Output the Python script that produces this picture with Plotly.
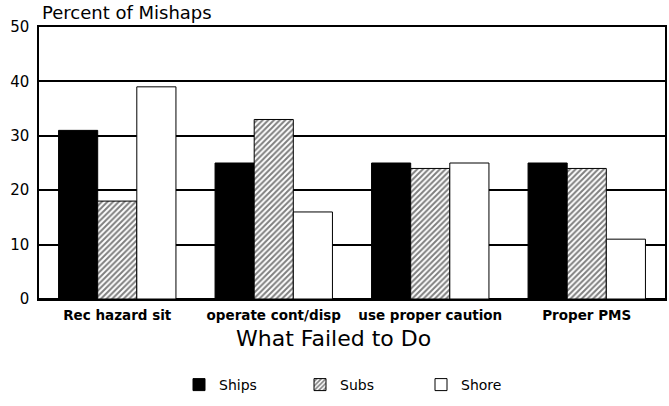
import plotly.graph_objects as go

categories = ["Rec hazard sit", "operate cont/disp", "use proper caution", "Proper PMS"]
ships = [31, 25, 25, 25]
subs = [18, 33, 24, 24]
shore = [39, 16, 25, 11]
y_ticks = [0, 10, 20, 30, 40, 50]

FONT = "DejaVu Sans"
L, R, T, B = 39, 4, 27, 107
W, H = 669, 406
PW, PH = W - L - R, H - T - B


def px(x):
    return (x - L) / PW


def py(y):
    return (H - B - y) / PH


fig = go.Figure()
fig.add_trace(go.Bar(name="Ships", x=categories, y=ships,
                     marker=dict(color="black", line=dict(color="black", width=1))))
fig.add_trace(go.Bar(name="Subs", x=categories, y=subs,
                     marker=dict(color="white", line=dict(color="black", width=1),
                                 pattern=dict(shape="/", fgcolor="black", bgcolor="white",
                                              size=4, solidity=0.5))))
fig.add_trace(go.Bar(name="Shore", x=categories, y=shore,
                     marker=dict(color="white", line=dict(color="black", width=1))))

fig.update_layout(
    width=W, height=H, autosize=False,
    margin=dict(l=L, r=R, t=T, b=B),
    paper_bgcolor="white", plot_bgcolor="white",
    barmode="group", bargap=0.25, bargroupgap=0,
    font=dict(family=FONT, color="black"),
    showlegend=True,
    legend=dict(orientation="h", xref="container", yref="container",
                x=179 / W, xanchor="left", y=1 - 385 / H, yanchor="middle",
                font=dict(size=14, family=FONT), itemwidth=30,
                entrywidth=76, entrywidthmode="pixels",
                traceorder="normal"),
    annotations=[
        dict(text="Percent of Mishaps", xref="paper", yref="paper",
             x=px(40), y=py(13), xanchor="left", yanchor="middle",
             showarrow=False, font=dict(size=18, family=FONT)),
        dict(text="What Failed to Do", xref="paper", yref="paper",
             x=px(333), y=py(338), xanchor="center", yanchor="middle",
             showarrow=False, font=dict(size=22, family=FONT)),
    ],
)
fig.update_xaxes(
    showgrid=False, showline=True, linecolor="black", linewidth=1.5, mirror=True,
    ticks="", tickfont=dict(size=13.5, family=FONT, weight="bold"), automargin=False,
    ticklabelstandoff=3,
)
fig.update_yaxes(
    range=[0, 50], tickvals=y_ticks, showgrid=True, gridcolor="black", gridwidth=1.5,
    showline=True, linecolor="black", linewidth=1.5, mirror=True,
    zeroline=True, zerolinecolor="black", zerolinewidth=1.5,
    ticks="", tickfont=dict(size=15, family=FONT), ticklabelstandoff=5, automargin=False,
)

fig.write_html("out.html", config={"responsive": False, "displayModeBar": False},
               post_script="document.body.style.margin='0';document.body.style.overflow='hidden';")
